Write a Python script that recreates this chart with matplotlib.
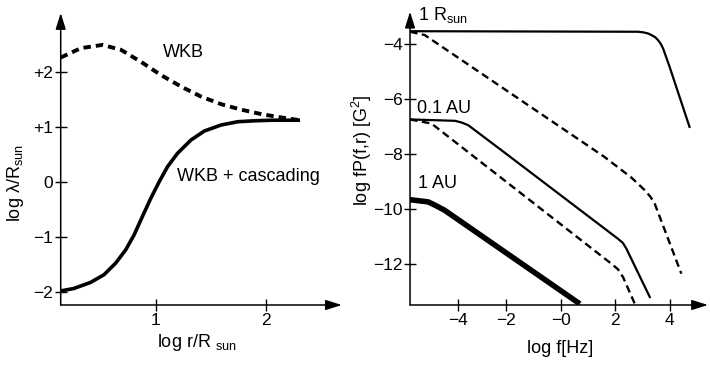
import matplotlib
matplotlib.use("Agg")
import matplotlib.pyplot as plt

plt.rcParams['font.family'] = ['Liberation Sans', 'DejaVu Sans']
plt.rcParams['mathtext.fontset'] = 'custom'
plt.rcParams['mathtext.rm'] = 'Liberation Sans'
plt.rcParams['mathtext.it'] = 'Liberation Sans:italic'

# left panel: correlation length vs heliocentric distance (log-log)
r_wkb = [0.134, 0.317, 0.514, 0.682, 0.865, 1.047, 1.23, 1.41, 1.595, 1.78, 1.96, 2.14, 2.31]
lam_wkb = [2.26, 2.43, 2.49, 2.40, 2.18, 1.94, 1.73, 1.55, 1.41, 1.31, 1.23, 1.17, 1.12]
r_casc = [0.131, 0.253, 0.405, 0.527, 0.633, 0.724, 0.80, 0.877, 0.953, 1.029, 1.105,
          1.196, 1.318, 1.44, 1.592, 1.744, 1.9, 2.05, 2.31]
lam_casc = [-1.985, -1.94, -1.83, -1.69, -1.48, -1.24, -0.97, -0.63, -0.30, 0.0, 0.275,
            0.518, 0.76, 0.924, 1.033, 1.093, 1.11, 1.12, 1.12]
left_yticks = [-2, -1, 0, 1, 2]
left_yticklabels = ["\u22122", "\u22121", "0", "+1", "+2"]
left_xticks = [1, 2]

# right panel: spectra fP(f,r)
f_sun = [-5.54, 2.84, 3.02, 3.2, 3.33, 3.47, 3.57, 3.68, 3.76, 4.0, 4.73]
p_sun = [-3.52, -3.54, -3.56, -3.6, -3.66, -3.74, -3.84, -3.99, -4.15, -4.82, -7.0]
f_sun_wkb = [-5.54, -5.0, 1.6, 2.6, 3.08, 3.3, 3.45, 4.43]
p_sun_wkb = [-3.54, -3.66, -8.09, -8.85, -9.3, -9.55, -9.79, -12.34]
f_01au = [-5.54, -3.89, -3.65, -3.40, -2.18, 2.10, 2.28, 2.41, 3.27]
p_01au = [-6.73, -6.78, -6.84, -6.94, -7.85, -11.07, -11.22, -11.43, -13.19]
f_01au_wkb = [-5.54, -4.75, 1.86, 2.1, 2.29, 2.72]
p_01au_wkb = [-6.73, -6.88, -11.98, -12.18, -12.47, -13.44]
f_1au = [-5.54, -4.87, -4.6, -4.26, 0.70]
p_1au = [-9.65, -9.73, -9.86, -10.04, -13.44]
right_yticks = [-12, -10, -8, -6, -4]
right_yticklabels = ["\u221212", "\u221210", "\u22128", "\u22126", "\u22124"]
right_xticklabels = ["\u22124", "\u22122", "\u22120", "2", "4"]
# the -4 tick sits a bit off the regular spacing in the original figure
right_xticks = [-3.77, -2, 0, 2, 4]

fig = plt.figure(figsize=(7.1, 3.65), dpi=100)
ax1 = fig.add_axes([0.0855, 0.1644, 0.396, 0.80])
ax2 = fig.add_axes([0.5775, 0.1644, 0.4197, 0.8036])


def arrow_axes(ax):
    for s in ax.spines.values():
        s.set_visible(False)
    style = '-|>,head_length=0.7,head_width=0.22'
    ax.annotate('', xy=(1, 0), xytext=(0, 0), xycoords='axes fraction',
                arrowprops=dict(arrowstyle=style, lw=1.1, color='k', mutation_scale=14,
                                shrinkA=0, shrinkB=0))
    ax.annotate('', xy=(0, 1), xytext=(0, 0), xycoords='axes fraction',
                arrowprops=dict(arrowstyle=style, lw=1.1, color='k', mutation_scale=14,
                                shrinkA=0, shrinkB=0))
    ax.tick_params(direction='inout', length=9, width=1, labelsize=12.5, pad=1)


ax1.plot(r_wkb, lam_wkb, color='k', lw=2.8, linestyle=(0, (1.9, 1.3)))
ax1.plot(r_casc, lam_casc, color='k', lw=2.6, solid_capstyle='butt')
ax1.set_xlim(0.134, 2.69)
ax1.set_ylim(-2.24, 3.07)
ax1.set_xticks(left_xticks)
ax1.set_yticks(left_yticks, left_yticklabels)
arrow_axes(ax1)
ax1.text(1.06, 2.36, "WKB", fontsize=13, ha='left', va='center')
ax1.text(1.187, 0.105, "WKB + cascading", fontsize=13, ha='left', va='center')
ax1.text(-0.162, 0.418, "log \u03bb/R$_{\\rm sun}$", transform=ax1.transAxes,
         rotation=90, ha='center', va='center', fontsize=13)
ax1.text(0.485, -0.13, "log r/R $_{\\rm sun}$", transform=ax1.transAxes,
         ha='center', va='center', fontsize=13)

ax2.plot(f_sun, p_sun, color='k', lw=1.6)
ax2.plot(f_sun_wkb, p_sun_wkb, color='k', lw=1.7, linestyle=(0, (3.2, 1.9)))
ax2.plot(f_01au, p_01au, color='k', lw=1.6)
ax2.plot(f_01au_wkb, p_01au_wkb, color='k', lw=1.7, linestyle=(0, (3.2, 1.9)))
ax2.plot(f_1au, p_1au, color='k', lw=4.0, solid_capstyle='butt')
ax2.set_xlim(-5.54, 5.41)
ax2.set_ylim(-13.48, -2.81)
ax2.set_xticks(right_xticks, right_xticklabels)
ax2.set_yticks(right_yticks, right_yticklabels)
arrow_axes(ax2)
ax2.text(-5.25, -2.93, "1 R$_{\\rm sun}$", fontsize=13, ha='left', va='center')
ax2.text(-5.28, -6.32, "0.1 AU", fontsize=13, ha='left', va='center')
ax2.text(-5.25, -9.05, "1 AU", fontsize=13, ha='left', va='center')
ax2.text(-0.161, 0.528, "log fP(f,r) [G$^2$]", transform=ax2.transAxes,
         rotation=90, ha='center', va='center', fontsize=13)
ax2.text(0.503, -0.147, "log f[Hz]", transform=ax2.transAxes,
         ha='center', va='center', fontsize=13)

fig.savefig("out.png", dpi=100)
